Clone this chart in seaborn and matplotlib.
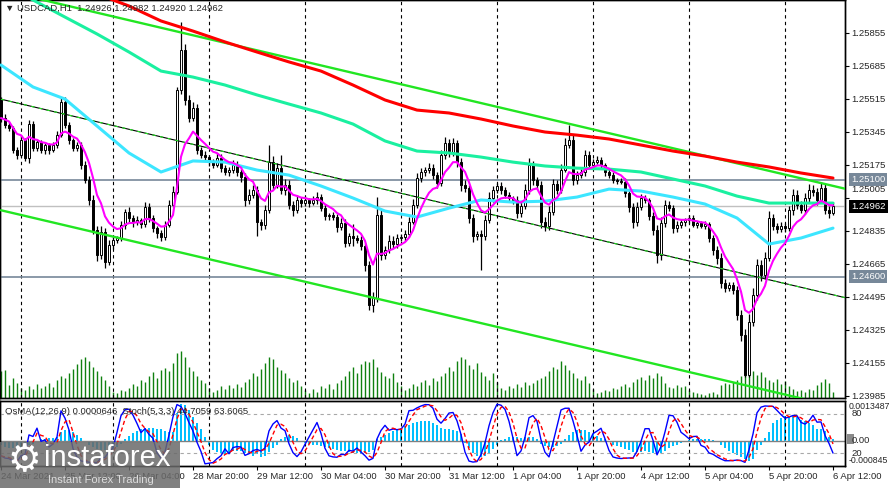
import numpy as np
import pandas as pd
import seaborn as sns
import matplotlib.pyplot as plt
import matplotlib.transforms as mtransforms
from matplotlib.patches import Rectangle

sns.set_style("white")
plt.rcParams["font.family"] = ["Liberation Sans", "DejaVu Sans"]


# =========================
# Data (USDCAD H1)
# =========================
first_open = 1.25510
closes = [
    1.25417, 1.25381, 1.25366, 1.25252, 1.25226, 1.25304, 1.25211, 1.25386, 1.25263, 1.25293,
    1.25252, 1.25278, 1.25252, 1.25278, 1.25329, 1.25499, 1.25381, 1.25304, 1.25263, 1.25278,
    1.25175, 1.25098, 1.24995, 1.24840, 1.24711, 1.24830, 1.24675, 1.24763, 1.24789, 1.24799,
    1.24866, 1.24933, 1.24902, 1.24881, 1.24892, 1.24871, 1.24959, 1.24902, 1.24850, 1.24825,
    1.24804, 1.24866, 1.24969, 1.25036, 1.25561, 1.25767, 1.25510, 1.25417, 1.25469, 1.25252,
    1.25226, 1.25216, 1.25190, 1.25175, 1.25211, 1.25159, 1.25139, 1.25149, 1.25175, 1.25139,
    1.25113, 1.24995, 1.25020, 1.25046, 1.24881, 1.24866, 1.24943, 1.25190, 1.25072, 1.25159,
    1.25046, 1.25072, 1.24969, 1.24943, 1.24995, 1.24979, 1.24995, 1.24979, 1.24995, 1.25010,
    1.24953, 1.24912, 1.24917, 1.24907, 1.24855, 1.24876, 1.24773, 1.24809, 1.24799, 1.24789,
    1.24758, 1.24660, 1.24454, 1.24490, 1.24917, 1.24711, 1.24737, 1.24783, 1.24768, 1.24799,
    1.24804, 1.24819, 1.24881, 1.24969, 1.25108, 1.25139, 1.25149, 1.25159, 1.25123, 1.25082,
    1.25226, 1.25288, 1.25242, 1.25288, 1.25190, 1.25072, 1.25056, 1.24902, 1.24809, 1.24819,
    1.24809, 1.24892, 1.25005, 1.25046, 1.25067, 1.25046, 1.25020, 1.25005, 1.24995, 1.24928,
    1.24964, 1.25046, 1.25175, 1.25098, 1.25072, 1.24881, 1.24861, 1.24933, 1.25077, 1.25046,
    1.25149, 1.25278, 1.25304, 1.25098, 1.25123, 1.25139, 1.25226, 1.25175, 1.25190, 1.25201,
    1.25175, 1.25139, 1.25123, 1.25098, 1.25093, 1.25087, 1.25031, 1.24959, 1.24881, 1.24959,
    1.25005, 1.24995, 1.24912, 1.24840, 1.24711, 1.24876, 1.24969, 1.24953, 1.24850, 1.24866,
    1.24881, 1.24892, 1.24902, 1.24866, 1.24876, 1.24861, 1.24871, 1.24799, 1.24737, 1.24696,
    1.24567, 1.24541, 1.24557, 1.24531, 1.24402, 1.24299, 1.24093, 1.24366, 1.24505, 1.24660,
    1.24608, 1.24696, 1.24902, 1.24861, 1.24845, 1.24861, 1.24850, 1.24943, 1.25020, 1.24969,
    1.24943, 1.25005, 1.25046, 1.25036, 1.24995, 1.25056, 1.24943, 1.24926, 1.24962,
]
# wick lengths in points (0.00001)
upper_wick = [
    15, 20, 18, 12, 15, 25, 12, 20, 15, 18,
    12, 15, 10, 18, 20, 20, 25, 15, 12, 18,
    15, 20, 18, 25, 20, 30, 20, 25, 15, 12,
    20, 18, 25, 15, 20, 12, 25, 18, 15, 12,
    15, 20, 25, 30, 15, 145, 30, 25, 30, 20,
    15, 20, 12, 15, 25, 20, 15, 18, 25, 20,
    15, 20, 30, 25, 20, 15, 25, 88, 30, 25,
    70, 30, 25, 20, 25, 15, 18, 12, 20, 25,
    15, 20, 12, 18, 15, 25, 20, 18, 60, 15,
    20, 15, 20, 30, 93, 25, 20, 30, 25, 20,
    15, 20, 25, 30, 25, 20, 15, 25, 20, 15,
    25, 31, 20, 25, 15, 20, 25, 15, 20, 15,
    20, 25, 30, 20, 15, 20, 18, 15, 12, 20,
    25, 30, 35, 20, 15, 20, 25, 30, 25, 20,
    30, 35, 77, 25, 20, 15, 25, 20, 15, 20,
    15, 12, 18, 15, 12, 15, 20, 15, 20, 25,
    20, 15, 12, 20, 25, 30, 25, 20, 15, 20,
    15, 12, 18, 15, 12, 10, 15, 12, 15, 20,
    25, 20, 15, 18, 20, 25, 30, 40, 35, 30,
    25, 30, 35, 20, 15, 18, 15, 20, 30, 25,
    20, 25, 30, 25, 20, 30, 25, 20, 20,
]
lower_wick = [
    20, 15, 18, 15, 20, 12, 15, 25, 18, 15,
    15, 20, 18, 12, 15, 10, 15, 20, 18, 15,
    20, 15, 25, 20, 30, 20, 31, 15, 20, 18,
    15, 20, 18, 25, 15, 20, 15, 18, 20, 25,
    20, 15, 12, 10, 10, 20, 25, 20, 15, 20,
    15, 18, 20, 15, 12, 20, 15, 18, 15, 20,
    25, 30, 20, 15, 70, 25, 20, 15, 20, 15,
    20, 25, 20, 30, 15, 20, 15, 18, 12, 20,
    15, 20, 18, 15, 25, 15, 20, 15, 40, 18,
    20, 30, 25, 36, 20, 25, 20, 15, 20, 18,
    15, 20, 15, 12, 15, 20, 18, 15, 20, 25,
    15, 20, 25, 20, 25, 30, 20, 25, 30, 20,
    175, 20, 15, 18, 15, 20, 15, 18, 20, 25,
    20, 15, 20, 25, 20, 30, 25, 20, 15, 20,
    15, 12, 15, 25, 20, 15, 18, 20, 15, 12,
    15, 20, 15, 18, 15, 12, 20, 25, 30, 20,
    15, 18, 20, 25, 41, 25, 20, 15, 25, 20,
    15, 18, 15, 12, 15, 12, 15, 20, 25, 30,
    25, 20, 15, 20, 25, 30, 10, 10, 20, 25,
    30, 20, 15, 20, 18, 15, 20, 15, 25, 20,
    15, 20, 18, 20, 25, 15, 20, 25, 6,
]
volume = [
    26, 27, 13, 20, 15, 10, 8, 12, 9, 14,
    10, 12, 15, 11, 18, 22, 20, 24, 28, 33,
    38, 40, 36, 30, 26, 22, 18, 12, 6, 5,
    8, 7, 10, 14, 12, 18, 16, 22, 25, 20,
    27, 29, 26, 34, 44, 46, 40, 30, 26, 22,
    18, 15, 10, 6, 8, 12, 9, 13, 10, 14,
    11, 16, 19, 24, 22, 28, 34, 40, 38, 30,
    27, 24, 20, 16, 18, 12, 8, 5, 9, 6,
    12, 10, 14, 9, 15, 18, 22, 26, 30, 24,
    33, 36, 35, 38, 30, 25, 22, 20, 24, 16,
    12, 8, 10, 14, 12, 16, 18, 13, 20, 17,
    22, 24, 30, 26, 36, 40, 38, 32, 28, 34,
    25, 22, 18, 24, 16, 10, 8, 12, 10, 14,
    11, 16, 13, 15, 18, 20, 22, 26, 30, 28,
    36, 32, 27, 24, 20, 18, 22, 15, 9, 5,
    6, 8, 7, 10, 9, 12, 14, 11, 16, 19,
    21, 18, 23, 20, 24, 22, 15, 11, 10, 13,
    11, 12, 8, 6, 5, 4, 3, 5, 6, 4,
    13, 15, 14, 16, 18, 22, 25, 24, 26, 23,
    25, 21, 18, 16, 19, 14, 17, 12, 9, 7,
    8, 6, 9, 8, 13, 16, 19, 15, 6,
]
# OsMA(12,26,9) histogram, in units of 0.00001
osma = [
    -15, -20, -24, -24, -22, -20, -18, -15, -10, -5,
    5, 8, 10, 10, 12, 30, 38, 36, 30, 20,
    10, -5, -12, -20, -26, -30, -31, -30, -26, -20,
    -10, 8, 18, 28, 35, 40, 43, 44, 44, 42,
    40, 35, 30, 30, 95, 125, 120, 105, 80, 60,
    40, 15, -15, -30, -38, -42, -45, -40, -35, -33,
    -35, -40, -45, -50, -45, -54, -50, -38, -25, -15,
    5, 15, 20, 18, 10, -5, -8, -10, -12, -15,
    -18, -22, -25, -28, -30, -33, -35, -38, -40, -42,
    -43, -40, -38, -30, 5, 12, 20, 28, 35, 40,
    45, 50, 55, 60, 63, 66, 67, 67, 62, 55,
    44, 42, 40, 38, 35, 25, -8, -25, -40, -50,
    -54, -50, -40, -28, -15, 2, 8, 12, 14, 12,
    10, 12, 15, 12, 6, -10, -18, -22, -22, -18,
    -10, 8, 20, 30, 36, 38, 36, 30, 25, 18,
    10, 5, -5, -12, -18, -22, -28, -32, -36, -38,
    -36, -34, -36, -40, -43, -40, -33, -25, -18, -12,
    -6, -3, 2, 5, 7, 8, 7, 5, 2, -5,
    -15, -25, -33, -40, -48, -55, -62, -66, -60, -30,
    -15, 10, 30, 61, 70, 78, 84, 84, 83, 80,
    72, 68, 62, 55, 40, 40, 32, 15, 6.46,
]

# moving averages, one value every 8 bars
ma_step = 8
ma_cyan = [1.25690, 1.25577, 1.25515, 1.25376, 1.25237, 1.25139, 1.25196, 1.25190, 1.25149,
           1.25123, 1.25067, 1.25005, 1.24938, 1.24907, 1.24953, 1.24995, 1.24984, 1.24989,
           1.25010, 1.25051, 1.25041, 1.25010, 1.24974, 1.24902, 1.24768, 1.24799, 1.24850]
ma_aqua = [1.26113, 1.26025, 1.25937, 1.25850, 1.25757, 1.25659, 1.25628, 1.25587, 1.25536,
           1.25489, 1.25443, 1.25386, 1.25299, 1.25247, 1.25237, 1.25216, 1.25190, 1.25170,
           1.25159, 1.25154, 1.25139, 1.25103, 1.25067, 1.25015, 1.24979, 1.24979, 1.24979]
ma_red = [1.26257, 1.26190, 1.26123, 1.26056, 1.25994, 1.25917, 1.25865, 1.25809, 1.25757,
          1.25706, 1.25659, 1.25587, 1.25510, 1.25458, 1.25443, 1.25412, 1.25376, 1.25345,
          1.25329, 1.25309, 1.25278, 1.25247, 1.25221, 1.25190, 1.25165, 1.25134, 1.25108]

# trend channel (value at first bar and at right edge)
channel_x = [0, 211]
channel_upper = [1.26076, 1.25053]
channel_mid = [1.25514, 1.24492]
channel_lower = [1.24942, 1.23920]

levels = [1.25100, 1.24600]
bid = 1.24962

price_ticks = [1.25855, 1.25685, 1.25515, 1.25345, 1.25175, 1.25005,
               1.24835, 1.24665, 1.24495, 1.24325, 1.24155, 1.23985]
date_labels = ["24 Mar 2021", "25 Mar 12:00", "26 Mar 04:00", "28 Mar 20:00",
               "29 Mar 12:00", "30 Mar 04:00", "30 Mar 20:00", "31 Mar 12:00",
               "1 Apr 04:00", "1 Apr 20:00", "4 Apr 12:00", "5 Apr 04:00",
               "5 Apr 20:00", "6 Apr 12:00"]
date_step = 16
day_breaks = [5, 28, 52, 76, 100, 124, 148, 172, 196]


# =========================
# Bars + indicators
# =========================
n = len(closes)
idx = np.arange(n)
bars = pd.DataFrame({"close": closes})
bars["open"] = [first_open] + closes[:-1]
bars["high"] = bars[["open", "close"]].max(axis=1) + np.array(upper_wick) * 1e-5
bars["low"] = bars[["open", "close"]].min(axis=1) - np.array(lower_wick) * 1e-5

ema_fast = bars["close"].ewm(span=8, adjust=False).mean()

ll = bars["low"].rolling(5, min_periods=1).min()
hh = bars["high"].rolling(5, min_periods=1).max()
stoch_main = (bars["close"] - ll).rolling(3, min_periods=1).sum() / (hh - ll).rolling(3, min_periods=1).sum() * 100
stoch_sig = stoch_main.rolling(3, min_periods=1).mean()


# =========================
# Figure
# =========================
W, H = 891, 488
FS = 6.8
fig = plt.figure(figsize=(W / 100, H / 100), dpi=100)
fig.patch.set_facecolor("white")

ax = fig.add_axes([0, 1 - 398 / H, 845 / W, 398 / H])
vax = ax.twinx()
ax.set_zorder(vax.get_zorder() + 1)
ax.patch.set_visible(False)

# volume
vax.vlines(idx, 0, volume, color="#0f800f", lw=1.0)
vax.set_ylim(0, max(volume) * 398 / 47)
vax.set_yticks([])

for b in day_breaks:
    ax.axvline(b, color="black", lw=0.8, ls=(0, (3, 3)), zorder=1)

# candles
up = (bars["close"] >= bars["open"]).values
body_lo = bars[["open", "close"]].min(axis=1).values
body_h = np.maximum((bars["close"] - bars["open"]).abs().values, 0.000012)
ax.vlines(idx, bars["low"], bars["high"], color="black", lw=0.9, zorder=2)
ax.bar(idx[up], body_h[up], bottom=body_lo[up], width=0.62, color="white",
       edgecolor="black", linewidth=0.7, zorder=2.5)
ax.bar(idx[~up], body_h[~up], bottom=body_lo[~up], width=0.62, color="black",
       edgecolor="black", linewidth=0.7, zorder=2.5)

# levels
ax.axhline(bid, color="#c0c0c0", lw=1.0, zorder=1.5)
for lv in levels:
    ax.axhline(lv, color="#778899", lw=1.2, zorder=1.5)

# channel
sns.lineplot(x=channel_x, y=channel_upper, ax=ax, color="#22e622", lw=1.7, zorder=3)
sns.lineplot(x=channel_x, y=channel_lower, ax=ax, color="#22e622", lw=1.7, zorder=3)
sns.lineplot(x=channel_x, y=channel_mid, ax=ax, color="black", lw=0.8, zorder=3)
sns.lineplot(x=channel_x, y=channel_mid, ax=ax, color="#22e622", lw=0.8, linestyle=(0, (3, 4)), zorder=3.1)

# moving averages
ma_x = np.arange(0, n, ma_step)
sns.lineplot(x=ma_x, y=ma_red, ax=ax, color="#ff0000", lw=2.2, zorder=4)
sns.lineplot(x=ma_x, y=ma_aqua, ax=ax, color="#1af0a0", lw=2.2, zorder=4)
sns.lineplot(x=ma_x, y=ma_cyan, ax=ax, color="#3ce6ff", lw=2.2, zorder=4)
sns.lineplot(x=idx, y=ema_fast.values, ax=ax, color="#ff00ff", lw=1.5, zorder=5)

ax.set_xlim(-0.25, 211)
ax.set_ylim(1.23975, 1.26025)
ax.set_xticks([])
ax.yaxis.tick_right()
ax.set_yticks(price_ticks)
ax.tick_params(axis="y", right=True, left=False, labelright=False, length=3,
               width=0.8, direction="out", color="black")
ax.set_xlabel("")
ax.set_ylabel("")
for s in list(ax.spines.values()) + list(vax.spines.values()):
    s.set_color("black")
    s.set_linewidth(1)

trans = mtransforms.blended_transform_factory(ax.transAxes, ax.transData)
for p in price_ticks:
    dy = 6.5 if p == 1.25005 else 0
    ax.annotate(f"{p:.5f}", xy=(1, p), xycoords=trans, xytext=(4.5, dy),
                textcoords="offset points", ha="left", va="center", fontsize=FS,
                annotation_clip=False)
for lv in levels:
    ax.annotate(f"{lv:.5f}", xy=(1, lv), xycoords=trans, xytext=(4.5, 0),
                textcoords="offset points", ha="left", va="center", fontsize=FS,
                color="white", annotation_clip=False, zorder=10,
                bbox=dict(boxstyle="square,pad=0.2", fc="#778899", ec="none"))
ax.annotate(f"{bid:.5f}", xy=(1, bid), xycoords=trans, xytext=(4.5, 0),
            textcoords="offset points", ha="left", va="center", fontsize=FS,
            color="white", annotation_clip=False, zorder=10,
            bbox=dict(boxstyle="square,pad=0.2", fc="black", ec="none"))

ax.text(5 / 845, 1 - 8 / 398, "\u25bc USDCAD,H1  1.24926 1.24982 1.24920 1.24962",
        transform=ax.transAxes, ha="left", va="center", fontsize=FS, zorder=10)


# =========================
# Indicator window: OsMA + Stochastic
# =========================
ax_ind = fig.add_axes([0, 1 - 466 / H, 845 / W, 65 / H])
ax_os = ax_ind.twinx()
ax_ind.set_zorder(ax_os.get_zorder() + 1)
ax_ind.patch.set_visible(False)

ax_os.bar(idx, np.array(osma) * 1e-5, width=0.72, color="#00bfff", linewidth=0)
ax_os.axhline(0, color="#808080", lw=1.0)
ax_os.set_ylim(-0.000845, 0.0013487)
ax_os.set_yticks([])

for b in day_breaks:
    ax_ind.axvline(b, color="black", lw=0.8, ls=(0, (3, 3)), zorder=1)
for lv in [80, 20]:
    ax_ind.axhline(lv, color="#a8a8a8", lw=0.8, ls=(0, (3, 3)), zorder=1)

sns.lineplot(x=idx, y=stoch_main.values, ax=ax_ind, color="#0000ff", lw=1.0, zorder=3)
sns.lineplot(x=idx, y=stoch_sig.values, ax=ax_ind, color="#ff0000", lw=1.0,
             linestyle=(0, (3, 2)), zorder=3)

ax_ind.set_xlim(-0.25, 211)
ax_ind.set_ylim(0, 100)
ax_ind.yaxis.tick_right()
ax_ind.set_yticks([])
ax_ind.set_xticks(np.arange(0, n, date_step))
ax_ind.set_xticklabels(date_labels, ha="left")
ax_ind.tick_params(axis="x", bottom=True, length=3, width=0.8, pad=1.5,
                   labelsize=FS, direction="out", color="black")
ax_ind.set_xlabel("")
ax_ind.set_ylabel("")
for s in list(ax_ind.spines.values()) + list(ax_os.spines.values()):
    s.set_color("black")
    s.set_linewidth(1)

ax_ind.text(5 / 845, 1 - 10 / 65, "OsMA(12,26,9) 0.0000646  Stoch(5,3,3) 44.7059 63.6065",
            transform=ax_ind.transAxes, ha="left", va="center", fontsize=FS, zorder=10)

t_os = mtransforms.blended_transform_factory(ax_os.transAxes, ax_os.transData)
t_st = mtransforms.blended_transform_factory(ax_ind.transAxes, ax_ind.transData)
ax_os.annotate("0.0013487", xy=(1, 0.0013487), xycoords=t_os, xytext=(2.5, -1),
               textcoords="offset points", ha="left", va="top", fontsize=6.3, annotation_clip=False)
ax_os.annotate("-0.000845", xy=(1, -0.000845), xycoords=t_os, xytext=(2.5, 0.5),
               textcoords="offset points", ha="left", va="bottom", fontsize=6.3, annotation_clip=False)
ax_os.add_patch(Rectangle((1.002, -0.00011), 0.009, 0.00033, transform=t_os,
                          fc="#8a8a8a", ec="none", clip_on=False))
ax_os.annotate("0.00", xy=(1, 0), xycoords=t_os, xytext=(4.5, 0),
               textcoords="offset points", ha="left", va="center", fontsize=FS, annotation_clip=False)
for lv in [80, 20]:
    ax_ind.annotate(str(lv), xy=(1, lv), xycoords=t_st, xytext=(4.5, 0),
                    textcoords="offset points", ha="left", va="center", fontsize=FS,
                    annotation_clip=False)


# =========================
# Watermark
# =========================
fig.add_artist(Rectangle((0, 0), 180 / W, 46 / H, transform=fig.transFigure,
                         fc="#6a6a6a", ec="none", alpha=0.85, zorder=20))
fig.text(24 / W, 1 - 461 / H, "\u2699", fontsize=27, color="white",
         family="DejaVu Sans", ha="center", va="center", zorder=21)
fig.text(44 / W, 1 - 458 / H, "instaforex", fontsize=21, color="white",
         ha="left", va="center", zorder=21)
fig.text(48 / W, 1 - 480 / H, "Instant Forex Trading", fontsize=8, color="#dcdcdc",
         ha="left", va="center", zorder=21)

fig.savefig("out.png", dpi=100)
